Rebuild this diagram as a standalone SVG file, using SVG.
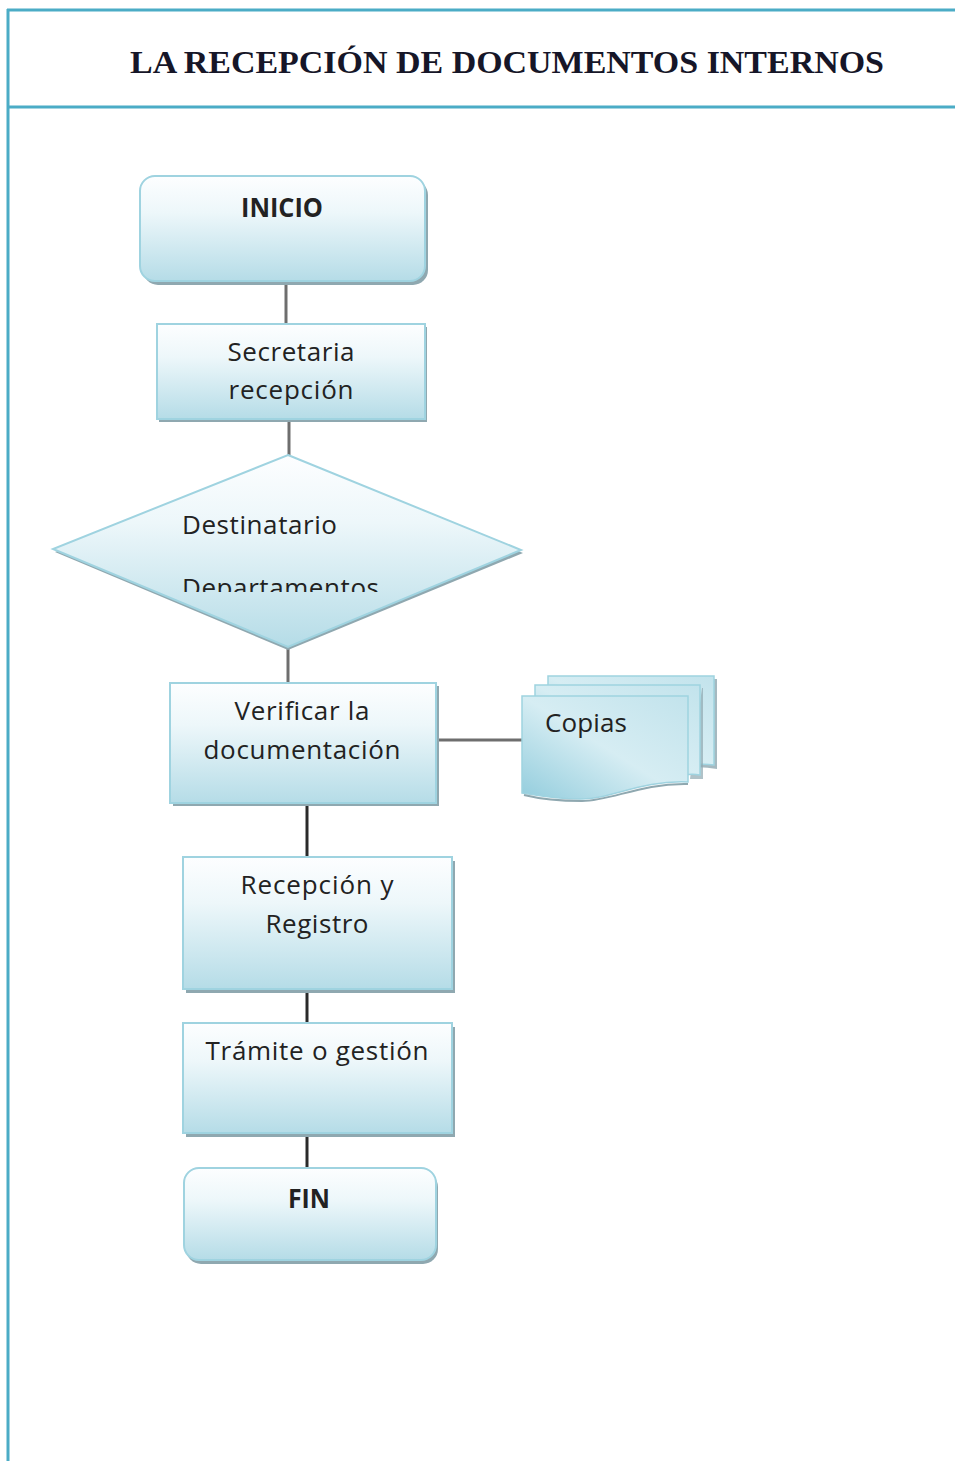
<svg xmlns="http://www.w3.org/2000/svg" width="955" height="1461" viewBox="0 0 955 1461">
<defs>
<linearGradient id="gFill" x1="0" y1="0" x2="0" y2="1">
<stop offset="0" stop-color="#fdfeff"/>
<stop offset="0.35" stop-color="#edf7fa"/>
<stop offset="1" stop-color="#b5dce7"/>
</linearGradient>
<linearGradient id="gDoc" x1="0" y1="1" x2="1" y2="0">
<stop offset="0" stop-color="#93cddd"/>
<stop offset="0.5" stop-color="#d6edf3"/>
<stop offset="1" stop-color="#c2e3ec"/>
</linearGradient>
<clipPath id="diamClip"><rect x="40" y="440" width="500" height="152"/></clipPath>
</defs>
<style>
.frame{stroke:#4bacc6;stroke-width:3;fill:none}
.box{fill:url(#gFill);stroke:#9fd3e0;stroke-width:2}
.doc{fill:url(#gDoc);stroke:#9fd3e0;stroke-width:1.5}
.shadow{fill:#8fa8b0}
.lbl{font-family:"Open Sans","Liberation Sans",sans-serif;font-size:26px;fill:#222222}
.bold{font-weight:bold}
.conA{stroke:#6e6e6e;stroke-width:3;fill:none}
.conB{stroke:#2a2a2a;stroke-width:3;fill:none}
</style>
<rect width="955" height="1461" fill="#ffffff"/>
<g id="frame">
<line class="frame" x1="7" y1="10" x2="955" y2="10"/>
<line class="frame" x1="8" y1="9" x2="8" y2="1461"/>
<line class="frame" x1="8" y1="107" x2="955" y2="107"/>
</g>
<g id="title">
<text x="130" y="73" font-family="'Liberation Serif',serif" font-weight="bold" font-size="31" fill="#161628" textLength="754" lengthAdjust="spacingAndGlyphs">LA RECEPCIÓN DE DOCUMENTOS INTERNOS</text>
</g>
<g id="connectors">
<line class="conA" x1="286" y1="282" x2="286" y2="324"/>
<line class="conA" x1="289" y1="420" x2="289" y2="456"/>
<line class="conA" x1="288" y1="646" x2="288" y2="683"/>
<line class="conA" x1="436" y1="740" x2="522" y2="740"/>
<line class="conB" x1="307" y1="803" x2="307" y2="857"/>
<line class="conB" x1="307" y1="989" x2="307" y2="1023"/>
<line class="conB" x1="307" y1="1133" x2="307" y2="1168"/>
</g>
<g id="inicio">
<rect class="shadow" x="143" y="180" width="285" height="105" rx="15"/>
<rect class="box" x="140" y="176" width="285" height="105" rx="15"/>
<text class="lbl bold" x="282" y="217" text-anchor="middle" textLength="82" lengthAdjust="spacingAndGlyphs">INICIO</text>
</g>
<g id="secretaria">
<rect class="shadow" x="159" y="327" width="268" height="95"/>
<rect class="box" x="157" y="324" width="268" height="95"/>
<text class="lbl" x="291" y="361" text-anchor="middle" textLength="127" lengthAdjust="spacing">Secretaria</text>
<text class="lbl" x="291" y="399" text-anchor="middle" textLength="125" lengthAdjust="spacing">recepción</text>
</g>
<g id="destinatario">
<polygon class="shadow" points="288,458 523,553 288,650 55,552"/>
<polygon class="box" points="288,455 521,550 288,647 53,549"/>
<g clip-path="url(#diamClip)">
<text class="lbl" x="182" y="534" textLength="155" lengthAdjust="spacing">Destinatario</text>
<text class="lbl" x="182" y="597" textLength="197" lengthAdjust="spacing">Departamentos</text>
</g>
</g>
<g id="verificar">
<rect class="shadow" x="173" y="686" width="266" height="120"/>
<rect class="box" x="170" y="683" width="266" height="120"/>
<text class="lbl" x="302" y="720" text-anchor="middle" textLength="135" lengthAdjust="spacing">Verificar la</text>
<text class="lbl" x="302" y="759" text-anchor="middle" textLength="197" lengthAdjust="spacing">documentación</text>
</g>
<g id="copias">
<path class="shadow" d="M550,679 H717 V769 Q700,766 690,768 V679 Z" opacity="0.8"/>
<path class="doc" d="M548,676 H714 V765 Q700,763 688,766 L548,766 Z"/>
<path class="shadow" d="M702,688 H703 V779 L690,779 Z" opacity="0.7"/>
<path class="doc" d="M535,685 H700 V775 Q690,773 680,776 L535,776 Z"/>
<path class="doc" d="M522,696 H688 V782 C640,780 610,800 580,799 C555,799 535,795 522,793 Z"/>
<path d="M524,795 C540,799 560,801 582,801 C612,801 640,783 688,784" fill="none" stroke="#8fa8b0" stroke-width="2"/>
<text class="lbl" x="545" y="732" textLength="82" lengthAdjust="spacing">Copias</text>
</g>
<g id="recepcion">
<rect class="shadow" x="186" y="861" width="269" height="132"/>
<rect class="box" x="183" y="857" width="269" height="132"/>
<text class="lbl" x="317" y="894" text-anchor="middle" textLength="153" lengthAdjust="spacing">Recepción y</text>
<text class="lbl" x="317" y="933" text-anchor="middle" textLength="103" lengthAdjust="spacing">Registro</text>
</g>
<g id="tramite">
<rect class="shadow" x="186" y="1027" width="269" height="110"/>
<rect class="box" x="183" y="1023" width="269" height="110"/>
<text class="lbl" x="317" y="1060" text-anchor="middle" textLength="223" lengthAdjust="spacing">Trámite o gestión</text>
</g>
<g id="fin">
<rect class="shadow" x="186" y="1172" width="252" height="92" rx="15"/>
<rect class="box" x="184" y="1168" width="252" height="92" rx="15"/>
<text class="lbl bold" x="309" y="1208" text-anchor="middle" textLength="42" lengthAdjust="spacingAndGlyphs">FIN</text>
</g>
</svg>
